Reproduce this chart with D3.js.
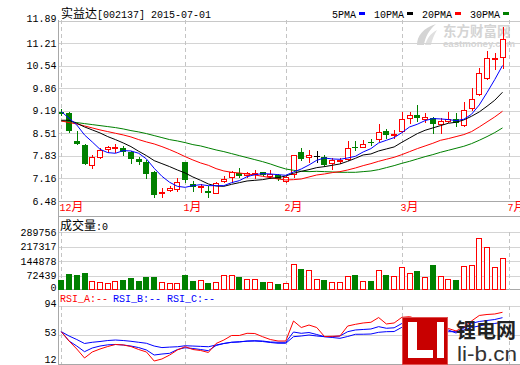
<!DOCTYPE html>
<html><head><meta charset="utf-8">
<script src="https://cdn.jsdelivr.net/npm/d3@7"></script>
<style>body{margin:0;background:#fff}svg{display:block}</style>
</head><body><svg id="c" width="520" height="365"></svg>
<script>
const title = "实益达[002137] 2015-07-01";
const opens  = [9.16,9.11,8.28,8.16,7.56,7.81,8.03,8.08,8.06,7.94,7.74,7.66,7.36,6.71,6.81,6.83,7.64,6.98,6.89,6.78,6.73,7.08,7.19,7.31,7.25,7.29,7.35,7.23,7.26,7.09,7.30,7.96,7.79,7.83,7.79,7.61,7.67,7.73,8.09,8.10,8.26,8.33,8.58,8.45,8.59,8.96,9.06,8.94,8.96,8.79,8.89,8.93,8.76,9.26,9.68,10.18,10.76,10.79];
const highs  = [9.23,9.16,8.59,8.19,7.86,8.06,8.14,8.18,8.14,7.98,7.81,7.71,7.38,6.86,6.93,7.16,7.66,7.08,6.99,6.94,7.06,7.23,7.38,7.46,7.36,7.41,7.36,7.41,7.29,7.23,7.86,8.06,8.01,7.99,7.86,7.76,7.76,8.28,8.28,8.31,8.33,8.79,8.64,8.61,9.16,9.16,9.36,9.11,9.01,8.98,9.14,9.11,9.46,9.86,10.46,10.98,10.93,11.70];
const lows   = [9.07,8.54,8.18,7.58,7.48,7.76,7.96,7.95,7.86,7.61,7.58,7.16,6.61,6.59,6.79,6.79,7.06,6.79,6.76,6.61,6.73,7.04,7.06,7.21,7.21,7.18,7.26,7.18,7.11,7.06,7.19,7.71,7.66,7.66,7.53,7.43,7.61,7.71,8.01,8.09,8.15,8.29,8.36,8.36,8.56,8.83,8.88,8.86,8.53,8.53,8.86,8.74,8.74,9.21,9.66,10.14,10.44,10.48];
const closes = [9.10,8.58,8.18,7.58,7.79,8.01,8.10,8.09,7.95,7.74,7.65,7.29,6.66,6.76,6.86,7.04,7.11,6.91,6.93,6.73,7.01,7.14,7.34,7.23,7.31,7.33,7.27,7.29,7.13,7.21,7.86,7.73,7.86,7.83,7.56,7.71,7.71,8.06,8.06,8.19,8.23,8.54,8.46,8.49,8.93,9.06,8.98,9.01,8.78,8.89,8.93,8.83,9.21,9.53,10.31,10.76,10.78,11.33];
const volumes = [52340,82110,76020,87450,46180,42060,36270,47350,52480,62190,47020,67330,67480,41210,37060,36890,77240,47110,52030,37150,42280,76140,76390,67020,56180,59320,42070,41160,32240,37080,130460,107220,100380,56040,52170,41390,41020,71260,77130,47210,47080,100240,77360,71120,115340,85260,97410,66180,127300,71040,56320,52180,120450,125370,260140,215260,115180,160350];
const ma5  = [9.16,8.96,8.76,8.46,8.25,8.03,7.93,7.91,7.99,7.98,7.91,7.74,7.46,7.22,7.04,6.92,6.89,6.94,6.97,6.94,6.94,6.94,7.03,7.09,7.21,7.27,7.30,7.29,7.27,7.25,7.35,7.44,7.56,7.70,7.77,7.74,7.73,7.77,7.82,7.95,8.05,8.22,8.30,8.38,8.53,8.70,8.78,8.89,8.95,8.94,8.92,8.89,8.93,9.08,9.36,9.73,10.12,10.54];
const ma10 = [8.90,8.90,8.81,8.70,8.61,8.52,8.41,8.32,8.22,8.11,7.97,7.84,7.69,7.60,7.51,7.41,7.32,7.20,7.10,6.99,6.93,6.92,6.98,7.03,7.08,7.10,7.12,7.16,7.18,7.23,7.31,7.37,7.42,7.48,7.51,7.55,7.59,7.67,7.76,7.86,7.89,7.98,8.04,8.10,8.24,8.37,8.50,8.60,8.67,8.74,8.81,8.84,8.91,9.02,9.15,9.32,9.50,9.74];
const ma20 = [8.88,8.83,8.79,8.73,8.67,8.61,8.56,8.51,8.46,8.40,8.32,8.25,8.19,8.11,8.02,7.92,7.81,7.71,7.62,7.55,7.45,7.38,7.34,7.32,7.29,7.26,7.22,7.18,7.14,7.11,7.12,7.14,7.20,7.26,7.29,7.33,7.36,7.41,7.47,7.54,7.60,7.67,7.73,7.79,7.87,7.96,8.05,8.13,8.21,8.30,8.35,8.41,8.47,8.56,8.70,8.85,9.00,9.17];
const ma30 = [8.88,8.86,8.83,8.80,8.77,8.74,8.71,8.68,8.64,8.59,8.55,8.50,8.44,8.38,8.32,8.28,8.23,8.17,8.13,8.07,8.01,7.96,7.90,7.84,7.78,7.72,7.66,7.59,7.51,7.44,7.40,7.37,7.36,7.37,7.36,7.35,7.34,7.34,7.34,7.36,7.38,7.42,7.48,7.54,7.61,7.67,7.74,7.81,7.87,7.94,8.00,8.06,8.12,8.20,8.30,8.41,8.53,8.67];
const rsiA = [57.7,44.5,33.2,20.5,29.0,33.2,36.7,39.6,38.9,36.7,32.5,29.0,16.2,19.1,24.7,31.8,36.5,32.5,31.1,28.3,41.0,45.9,52.3,52.3,55.4,55.1,50.6,46.6,44.5,44.5,72.8,63.6,67.1,63.6,50.9,51.2,51.6,65.7,68.1,70.0,71.0,77.7,68.6,70.0,78.0,78.9,75.6,74.2,64.3,65.7,62.2,58.7,64.3,72.8,80.6,82.0,82.7,85.1];
const rsiB = [57.7,44.5,37.4,29.4,34.6,37.4,39.1,39.6,38.9,37.4,35.2,31.8,24.7,26.1,27.1,32.5,35.0,33.9,32.5,30.8,38.2,41.0,42.7,43.1,44.5,44.9,44.5,43.1,42.7,42.7,57.2,55.4,56.5,53.7,50.6,50.6,51.6,57.7,60.1,60.8,61.5,64.8,62.5,63.2,69.3,70.7,68.6,67.1,62.9,62.2,60.1,55.8,62.9,69.5,72.1,73.5,74.9,77.5];
const rsiC = [57.7,51.6,46.6,41.0,42.7,43.8,45.2,45.9,45.2,44.1,42.7,41.3,37.4,35.2,35.9,36.4,37.8,37.4,36.9,36.4,38.8,41.0,42.7,43.5,44.2,44.5,43.8,42.4,41.3,41.3,50.6,51.6,53.0,51.6,50.6,49.5,48.3,50.9,54.0,54.1,54.4,56.8,57.7,57.9,63.9,65.0,63.6,62.2,59.4,58.7,57.7,57.7,60.1,63.6,65.8,67.9,69.3,71.0];
const priceTicks = [11.89,11.21,10.54,9.86,9.19,8.51,7.83,7.16,6.48];
const volTicks = [289756,217317,144878,72439,0];
const rsiTicks = [94,53,12];
const monthLabels = ["12月","1月","2月","3月","7月"];
const monthIndex = [0,16,29,44,57.9];
const maNames = ["5PMA","10PMA","20PMA","30PMA"];
const maColors = ["#0000ff","#000000","#ff0000","#008000"];
const rsiNames = ["RSI_A:--","RSI_B:--","RSI_C:--"];
const rsiColors = ["#ff0000","#0000ff","#0000ff"];

const RED="#ff0000", GREEN="#008000";
const svg = d3.select("#c");
const n = closes.length;
const x = d3.scaleLinear().domain([0, n-1]).range([61.3, 502.5]);
const yP = d3.scaleLinear().domain([6.48, 11.89]).range([201, 20.5]);
const yV = d3.scaleLinear().domain([0, 289756]).range([290.5, 232.3]);
const yR = d3.scaleLinear().domain([12, 94]).range([364, 306]);
const px = i => Math.round(x(i));
const MONO = "'Liberation Mono','DejaVu Sans Mono',monospace";
const CJK = "'Noto Sans CJK SC','Noto Sans CJK JP',sans-serif";
const isCJK = /[\u3000-\u9fff\uff00-\uffef]/;
function mixText(sel, str, a, c) {
  const runs = [];
  for (const ch of str) { const k = isCJK.test(ch); if (runs.length && runs[runs.length-1].k===k) runs[runs.length-1].s += ch; else runs.push({k, s:ch}); }
  runs.forEach(r => sel.append("tspan").attr("font-family", r.k?CJK:MONO).attr("font-size", r.k?c:a).text(r.s));
  return sel;
}
svg.append("rect").attr("width",520).attr("height",365).attr("fill","#fff");

// eastmoney watermark (behind)
const wm = svg.append("g").attr("fill","#d4d4d4");
wm.append("path").attr("d","M417,45 C417,36 423,28 436,24 C429,30 425,37 424,45 Z");
wm.append("path").attr("d","M425,45 C427,38 431,33 437,30 C434,35 432,40 431,45 Z").attr("fill","#e0e0e0");
wm.append("text").attr("x",443).attr("y",35.5).attr("font-family",CJK).attr("font-weight","bold").attr("font-size",13.5).text("东方财富网");
wm.append("text").attr("x",443).attr("y",46.5).attr("font-family","'Liberation Sans',Arial,sans-serif").attr("font-weight","bold").attr("font-size",9).attr("textLength",72).attr("lengthAdjust","spacingAndGlyphs").text("eastmoney.com");

// grid
const grid = svg.append("g").attr("shape-rendering","crispEdges");
const hl = (y, x1, c) => grid.append("line").attr("x1",x1).attr("x2",520).attr("y1",y).attr("y2",y).attr("stroke",c);
priceTicks.forEach((t,i) => hl(Math.round(yP(t))+0.5, 58, (i===0)?"#c8c8c8":(i===priceTicks.length-1?"#a8a8a8":"#d4d4d4")));
volTicks.forEach((t,i) => { if (i < volTicks.length-1) hl(Math.round(yV(t))+0.5, 58, "#d4d4d4"); });
hl(216.5, 58, "#a8a8a8");
hl(289.5, 58, "#a8a8a8");
rsiTicks.forEach((t,i) => hl(Math.round(yR(t))+0.5, 58, i===2?"#a8a8a8":"#d4d4d4"));
grid.append("line").attr("x1",58.5).attr("x2",58.5).attr("y1",20).attr("y2",365).attr("stroke","#a8a8a8");
monthIndex.forEach(mi => {
  const xx = Math.round(x(mi)) + 0.5;
  [[20,201],[232,290],[306,364]].forEach(([a,b]) =>
    grid.append("line").attr("x1",xx).attr("x2",xx).attr("y1",a).attr("y2",b).attr("stroke","#c4c4c4").attr("stroke-dasharray","4,3"));
});

// clip
svg.append("clipPath").attr("id","mc").append("rect").attr("x",59).attr("y",20).attr("width",461).attr("height",181);
const main = svg.append("g").attr("clip-path","url(#mc)").attr("shape-rendering","crispEdges");
d3.range(n).forEach(i => {
  const o=opens[i], c=closes[i];
  const col = c>o ? RED : (c<o ? GREEN : "#000");
  const cx = px(i) + 0.5;
  main.append("line").attr("x1",cx).attr("x2",cx).attr("y1",Math.round(yP(highs[i]))).attr("y2",Math.round(yP(lows[i]))+1).attr("stroke",col);
  const top = Math.round(yP(Math.max(o,c))), bot = Math.round(yP(Math.min(o,c)));
  if (c>o) {
    main.append("rect").attr("x",px(i)-2.5).attr("y",top+0.5).attr("width",5).attr("height",Math.max(bot-top,1)).attr("fill","#fff").attr("stroke",RED);
  } else if (c<o) {
    main.append("rect").attr("x",px(i)-3).attr("y",top).attr("width",6).attr("height",Math.max(bot-top,1)).attr("fill",GREEN);
  } else {
    main.append("line").attr("x1",px(i)-3).attr("x2",px(i)+3).attr("y1",top+0.5).attr("y2",top+0.5).attr("stroke","#000");
  }
});
const lineMain = arr => d3.line().x((d,i)=>x(i)).y(d=>yP(d))(arr);
[ma30, ma20, ma10, ma5].forEach((arr,k) => {
  svg.append("path").attr("clip-path","url(#mc)").attr("d", lineMain(arr)).attr("fill","none").attr("stroke", maColors[3-k]).attr("stroke-width",1);
});

// volume
const vol = svg.append("g").attr("shape-rendering","crispEdges");
d3.range(n).forEach(i => {
  const up = closes[i] >= opens[i];
  const top = Math.round(yV(volumes[i]));
  if (up) vol.append("rect").attr("x",px(i)-2.5).attr("y",top+0.5).attr("width",5).attr("height",289-top).attr("fill","#fff").attr("stroke",RED);
  else vol.append("rect").attr("x",px(i)-3).attr("y",top).attr("width",6).attr("height",290-top).attr("fill",GREEN);
});

// RSI
[rsiC, rsiB, rsiA].forEach((arr,k) => {
  svg.append("path").attr("d", d3.line().x((d,i)=>x(i)).y(d=>yR(d))(arr)).attr("fill","none").attr("stroke", rsiColors[2-k]).attr("stroke-width",1);
});

// labels
const lab = svg.append("g").attr("font-family",MONO).attr("font-size",10).attr("fill","#000");
priceTicks.forEach((t,i) => lab.append("text").attr("x",56.5).attr("y",yP(t)+(i===0?-2:0)).attr("dy","0.35em").attr("text-anchor","end").text(t.toFixed(2)));
volTicks.forEach((t,i) => lab.append("text").attr("x",56.5).attr("y",yV(t)+(i===volTicks.length-1?-3.5:0)).attr("dy","0.35em").attr("text-anchor","end").text(t));
rsiTicks.forEach((t,i) => lab.append("text").attr("x",56.5).attr("y",yR(t)-(i===2?4.5:3)).attr("dy","0.35em").attr("text-anchor","end").text(t));

mixText(svg.append("text").attr("x",61).attr("y",18).attr("fill","#000"), title, 10, 12);
let lx = [332,374,422,470];
maNames.forEach((nm,k) => {
  svg.append("text").attr("x",lx[k]).attr("y",17.5).attr("font-family",MONO).attr("font-size",10).attr("fill","#000").text(nm);
  svg.append("rect").attr("x",lx[k]+nm.length*6+3).attr("y",12).attr("width",6).attr("height",3).attr("fill",maColors[k]);
});
monthLabels.forEach((m,k) => mixText(svg.append("text").attr("x",Math.round(x(monthIndex[k]))-1.5).attr("y",210.5).attr("fill",RED), m, 10, 12));
mixText(svg.append("text").attr("x",60).attr("y",230).attr("fill","#000"), "成交量:0", 10, 12);
const rx = [60,113,167];
rsiNames.forEach((nm,k) => svg.append("text").attr("x",rx[k]).attr("y",301.5).attr("font-family",MONO).attr("font-size",10).attr("fill",rsiColors[k]).text(nm));

// li-b logo
const lg = svg.append("g").attr("shape-rendering","crispEdges");
lg.append("rect").attr("x",402).attr("y",317).attr("width",46).attr("height",48).attr("fill","#c80000");
lg.append("rect").attr("x",402.5).attr("y",317.5).attr("width",45).attr("height",47).attr("fill","none").attr("stroke","#e05050");
lg.append("rect").attr("x",408).attr("y",322).attr("width",9).attr("height",36).attr("fill","#fff");
lg.append("rect").attr("x",408).attr("y",350).attr("width",25).attr("height",8).attr("fill","#fff");
lg.append("rect").attr("x",437).attr("y",322).attr("width",7).attr("height",36).attr("fill","#fff");
svg.append("text").attr("x",456).attr("y",338).attr("font-family",CJK).attr("font-weight","bold").attr("font-size",20).attr("fill","#222").text("锂电网");
svg.append("text").attr("x",457).attr("y",361).attr("font-family","'Liberation Sans',Arial,sans-serif").attr("font-size",20).attr("textLength",60).attr("lengthAdjust","spacingAndGlyphs").attr("fill","#333").text("li-b.cn");
</script></body></html>
